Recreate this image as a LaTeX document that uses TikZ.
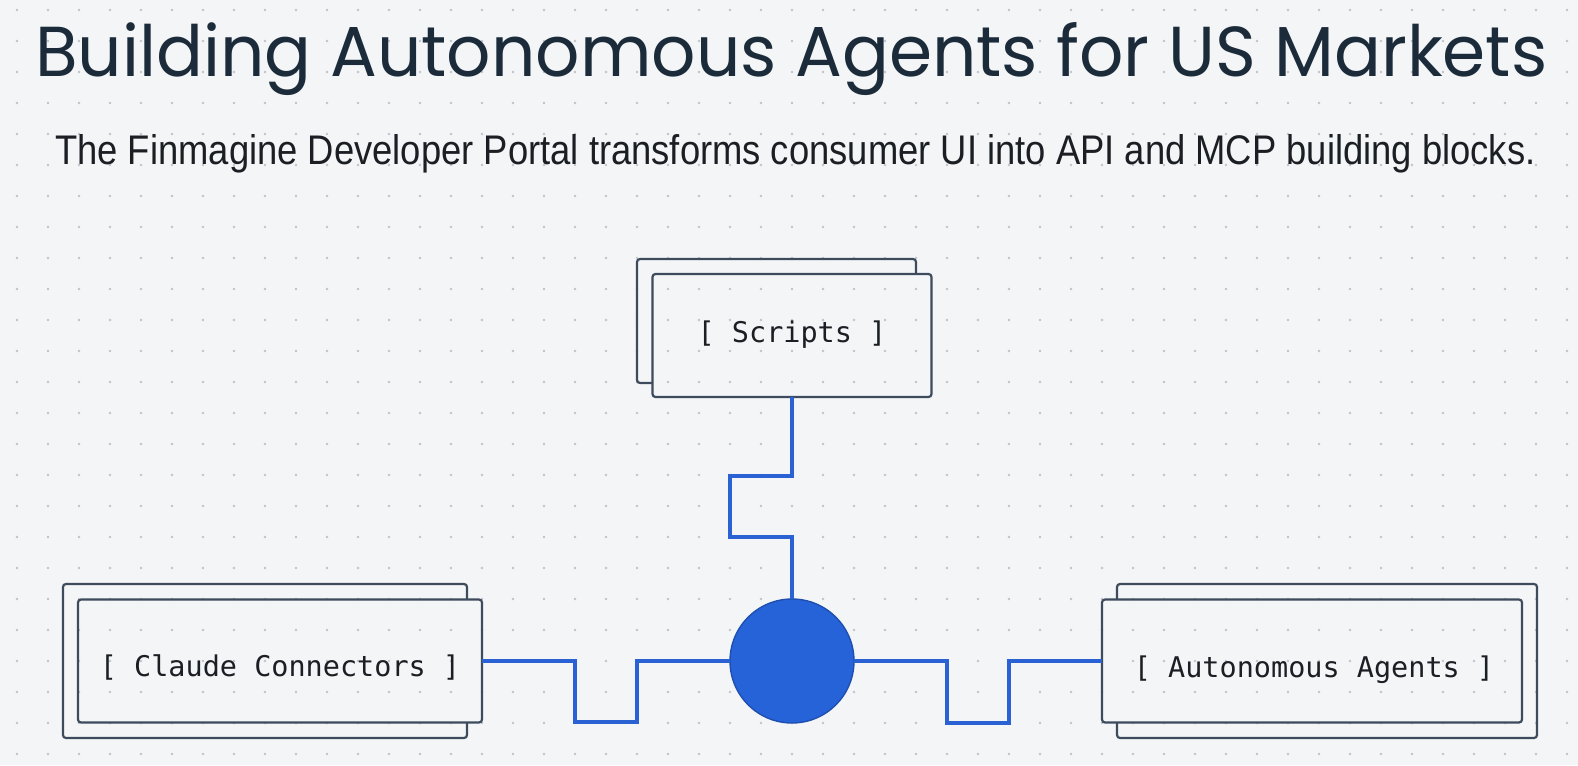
\documentclass[tikz,border=0pt]{standalone}
\usepackage{fontspec}
\usepackage{graphicx}
\newfontfamily\titlefont{Poppins}
\newfontfamily\subfont{Liberation Sans}
\newfontfamily\monofont{DejaVu Sans Mono}
\definecolor{bgcol}{HTML}{F3F5F7}
\definecolor{dotcol}{HTML}{BFC4CA}
\definecolor{boxcol}{HTML}{3D4B5C}
\definecolor{titlecol}{HTML}{1C2B3A}
\definecolor{subcol}{HTML}{1B1F24}
\definecolor{wirecol}{HTML}{2A62D4}
\definecolor{hubfill}{HTML}{2663D8}
\definecolor{hubline}{HTML}{1F4FB0}
\pgfdeclarelayer{bg}
\pgfdeclarelayer{dots}
\pgfsetlayers{bg,dots,main}
\newcommand{\dotgrid}{%
  \foreach \i in {0,...,50}
    \foreach \j in {0,...,24}
      \fill[dotcol] (17+31*\i, 10+31*\j) circle (1.3pt);}
\tikzset{
  frontbox/.style={draw=boxcol, line width=2.2pt, rounded corners=3pt, inner sep=0pt, outer sep=0pt},
  backbox/.style={draw=boxcol, line width=2.2pt, rounded corners=3pt, inner sep=0pt, outer sep=0pt},
  boxfill/.style={fill=bgcol},
  wire/.style={draw=wirecol, line width=3.8pt, line join=miter},
  hubnode/.style={circle, fill=hubfill, draw=hubline, line width=1.4pt, minimum size=124pt, inner sep=0pt, outer sep=0pt},
  monolabel/.style={anchor=base, inner sep=0pt, text=subcol, font=\monofont\fontsize{28.5pt}{30pt}\selectfont},
}
\begin{document}
\begin{tikzpicture}[x=1pt,y=-1pt]
\useasboundingbox (0,0) rectangle (1578,765);
% front boxes
\node[frontbox, minimum width=279pt, minimum height=123pt] (scripts) at (792,335.5) {};
\node[frontbox, minimum width=404pt, minimum height=123pt] (claude) at (280,661) {};
\node[frontbox, minimum width=420pt, minimum height=123pt] (agents) at (1312,661) {};
% labels
\node[monolabel] (scriptstxt) at (792,342) {[ Scripts ]};
\node[monolabel] (claudetxt) at (280,676) {[ Claude Connectors ]};
\node[monolabel] (agentstxt) at (1314,677) {[ Autonomous Agents ]};
% hub
\node[hubnode] (hub) at (792,661) {};
% connectors
\draw[wire] (scripts.south) -- ++(0,79) -- ++(-62,0) -- ++(0,61) -- ++(62,0) -- (hub.north);
\draw[wire] (claude.east) -- ++(93,0) -- ++(0,61) -- ++(62,0) -- ++(0,-61) -- (hub.west);
\draw[wire] (hub.east) -- ++(93,0) -- ++(0,62) -- ++(62,0) -- ++(0,-62) -- (agents.west);
% title and subtitle
\node[anchor=base west, inner sep=0pt, text=titlecol] (title) at (35,77)
  {\resizebox{1512pt}{54pt}{\titlefont Building Autonomous Agents for US Markets}};
\node[anchor=base west, inner sep=0pt, text=subcol] (subtitle) at (55,164)
  {\resizebox{1480pt}{30pt}{\subfont The Finmagine Developer Portal transforms consumer UI into API and MCP building blocks.}};
\begin{pgfonlayer}{bg}
  \fill[bgcol] (0,0) rectangle (1578,765);
  \dotgrid
  \node[backbox, minimum width=279pt, minimum height=124pt] (scriptsback) at (776.5,321) {};
  \node[backbox, minimum width=404pt, minimum height=154pt] (claudeback) at (265,661) {};
  \node[backbox, minimum width=420pt, minimum height=154pt] (agentsback) at (1327,661) {};
  \fill[boxfill, rounded corners=3pt] (scripts.south west) rectangle (scripts.north east);
  \fill[boxfill, rounded corners=3pt] (claude.south west) rectangle (claude.north east);
  \fill[boxfill, rounded corners=3pt] (agents.south west) rectangle (agents.north east);
\end{pgfonlayer}
\begin{pgfonlayer}{dots}
  \begin{scope}
    \clip (scripts.south west) rectangle (scripts.north east);
    \dotgrid
  \end{scope}
  \begin{scope}
    \clip (claude.south west) rectangle (claude.north east);
    \dotgrid
  \end{scope}
  \begin{scope}
    \clip (agents.south west) rectangle (agents.north east);
    \dotgrid
  \end{scope}
\end{pgfonlayer}
\end{tikzpicture}
\end{document}
